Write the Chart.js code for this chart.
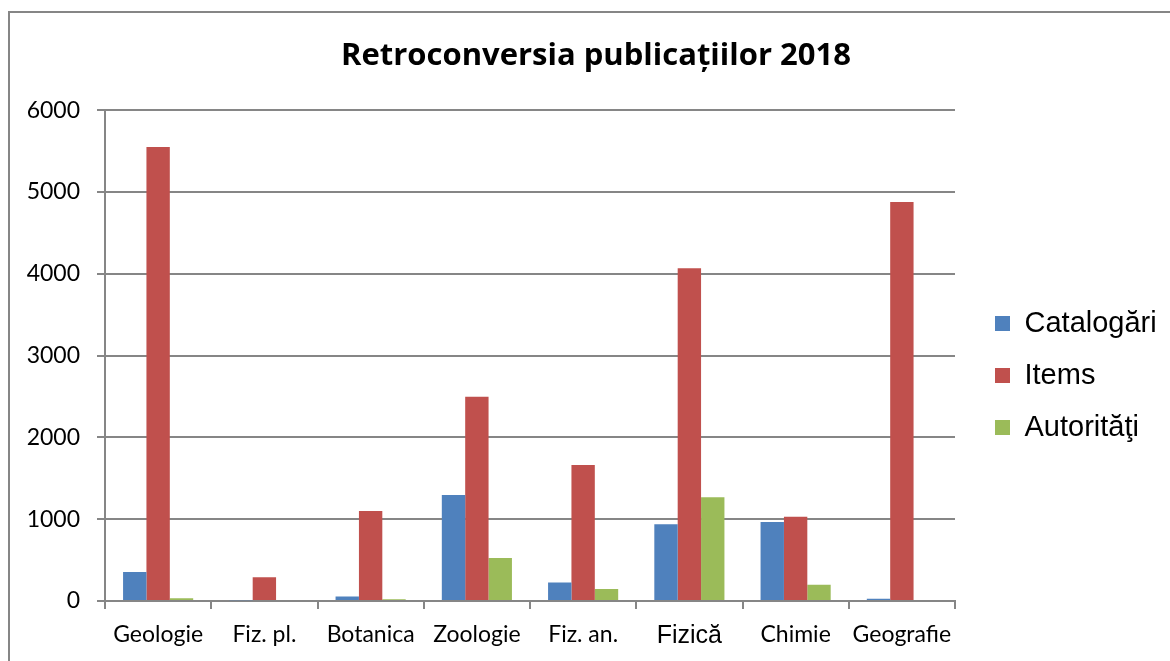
<!DOCTYPE html>
<html>
<head>
<meta charset="utf-8">
<title>Retroconversia publicațiilor 2018</title>
<script src="https://cdn.jsdelivr.net/npm/chart.js@4"></script>
<style>
  html, body { margin: 0; padding: 0; background: #fff; }
  #wrap { width: 1170px; height: 661px; position: relative; }
</style>
</head>
<body>
<div id="wrap"><canvas id="chart"></canvas></div>
<script>
/* Chart data */
const categories = ['Geologie', 'Fiz. pl.', 'Botanica', 'Zoologie', 'Fiz. an.', 'Fizică', 'Chimie', 'Geografie'];
const catalogari = [355, 10, 55, 1295, 225, 937, 966, 28];
const items = [5550, 290, 1100, 2497, 1663, 4067, 1030, 4878];
const autoritati = [35, 0, 20, 525, 147, 1268, 200, 0];
const yTicks = [0, 1000, 2000, 3000, 4000, 5000, 6000];

const GRID = '#868686';
const LABEL_FONT = 'Lato, "Open Sans", sans-serif';
const ARIAL = '"Liberation Sans", Arial, sans-serif';

// thin frame around the chart, like the office export
const framePlugin = {
  id: 'frame',
  beforeDraw(chart) {
    const ctx = chart.ctx;
    ctx.save();
    ctx.strokeStyle = GRID;
    ctx.lineWidth = 2;
    ctx.beginPath();
    ctx.moveTo(9, 680);
    ctx.lineTo(9, 12);
    ctx.lineTo(1180, 12);
    ctx.stroke();
    ctx.restore();
  }
};

// move the legend to where it sits in the original
const legendShift = {
  id: 'legendShift',
  afterLayout(chart) {
    if (chart.legend) {
      chart.legend.left += 17;
      chart.legend.top += 45;
      chart.legend.bottom += 45;
    }
  }
};

const ctx = document.getElementById('chart').getContext('2d');
const chart = new Chart(ctx, {
  type: 'bar',
  data: {
    labels: categories,
    datasets: [
      { label: 'Catalogări', data: catalogari, backgroundColor: '#4F81BD' },
      { label: 'Items', data: items, backgroundColor: '#C0504D' },
      { label: 'Autorităţi', data: autoritati, backgroundColor: '#9BBB59' }
    ]
  },
  options: {
    responsive: true,
    maintainAspectRatio: false,
    animation: false,
    layout: { padding: { left: 22, top: 0, right: 0, bottom: 0 } },
    datasets: {
      bar: { categoryPercentage: 0.66, barPercentage: 1.0 }
    },
    plugins: {
      title: {
        display: true,
        text: 'Retroconversia publicațiilor 2018',
        color: '#000',
        font: { family: '"Open Sans", sans-serif', size: 31, weight: 'bold', lineHeight: 1.2 },
        padding: { top: 38, bottom: 35 }
      },
      legend: {
        position: 'right',
        labels: {
          color: '#000',
          font: { family: ARIAL, size: 29 },
          boxWidth: 15,
          boxHeight: 15,
          padding: 23
        }
      },
      tooltip: { enabled: false }
    },
    scales: {
      x: {
        offset: true,
        grid: {
          offset: true,
          drawOnChartArea: false,
          color: GRID,
          lineWidth: 2,
          tickLength: 8
        },
        border: { color: GRID, width: 2 },
        ticks: {
          color: '#000',
          padding: 12,
          maxRotation: 0,
          font: c => c.index === 5
            ? { family: ARIAL, size: 25 }
            : { family: LABEL_FONT, size: 23 }
        },
        afterFit(scale) { scale.height = 60; }
      },
      y: {
        min: 0,
        max: 6000,
        afterBuildTicks(scale) { scale.ticks = yTicks.map(v => ({ value: v })); },
        grid: { color: GRID, lineWidth: 2, tickLength: 8 },
        border: { color: GRID, width: 2 },
        ticks: {
          color: '#000',
          padding: 17,
          font: { family: LABEL_FONT, size: 23 },
          callback: v => String(v)
        },
        afterFit(scale) { scale.width = 83; }
      }
    }
  },
  plugins: [framePlugin, legendShift]
});

// keep the legend column as wide as in the original so the plot ends at the same spot
const origFit = chart.legend.fit;
chart.legend.fit = function () {
  origFit.call(this);
  this.width = 215;
};
chart.update();
</script>
</body>
</html>
